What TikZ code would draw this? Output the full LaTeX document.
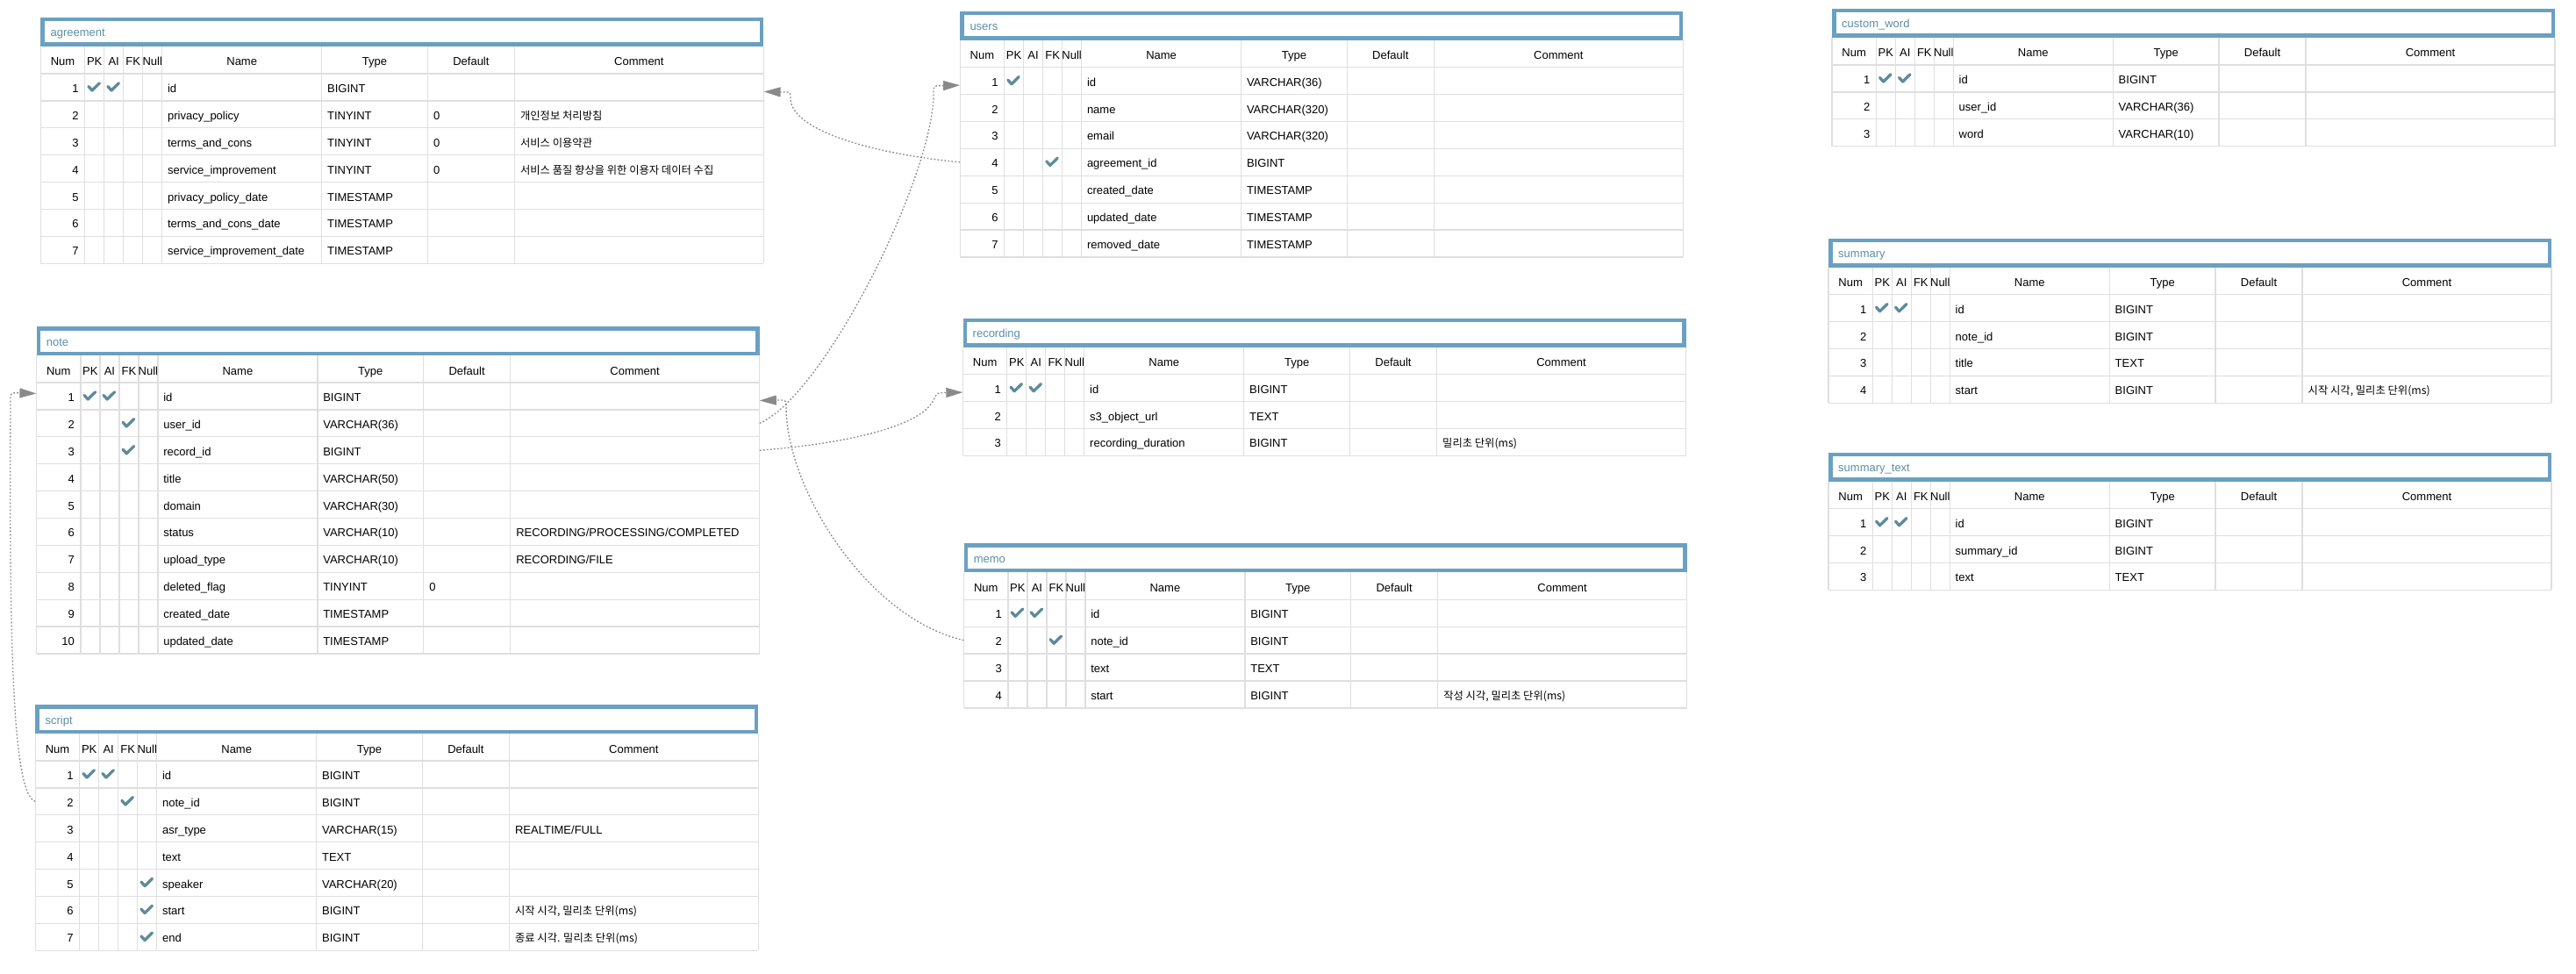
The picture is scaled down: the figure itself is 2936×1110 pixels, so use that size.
\documentclass[tikz,border=0pt]{standalone}
\usepackage{fontspec}
\setmainfont{Liberation Sans}
\newfontfamily\krfont{Noto Sans CJK KR}
\usetikzlibrary{arrows.meta,calc}
\definecolor{hdrblue}{HTML}{6AA0C2}
\definecolor{titleblue}{HTML}{5A8FA8}
\definecolor{gridgray}{HTML}{DFDFDF}
\definecolor{chkcol}{HTML}{5E8B9B}
\definecolor{conngray}{HTML}{8A8A8A}
\newcommand\tfont{\fontsize{13pt}{15pt}\selectfont}
\newcommand\kfont{\krfont\fontsize{12.3pt}{14pt}\selectfont}
\tikzset{
  cell/.style={inner sep=0pt, font=\tfont, text=black},
  hdrlabel/.style={cell, anchor=base},
  ttl/.style={inner sep=0pt, font=\tfont, text=titleblue, anchor=base west},
  gridline/.style={draw=gridgray, line width=1.3pt},
  chkmark/.style={draw=chkcol, line width=3.3pt, line cap=round, line join=round},
  rowbox/.style={inner sep=0pt, minimum width=824pt, minimum height=30.9pt, draw=none},
  conn/.style={draw=conngray, line width=1.3pt, dash pattern=on 1.8pt off 2.2pt, -{Triangle[length=19pt,width=11pt]}}
}
% table frame: #1 id, #2 title, #3 number of rows
\newcommand\ertable[3]{%
  \fill[hdrblue] (0,0) rectangle (824,33);
  \fill[white] (4.5,4.5) rectangle (819.5,28.5);
  \node[ttl] (#1-title) at (11,22) {#2};
  \foreach \i in {0,...,#3} {\draw[gridline] (0,{64+30.9*\i}) -- (824,{64+30.9*\i});}
  \foreach \xx in {0,50.3,72.3,94.3,116.3,138.3,320.3,441,540,824} {\draw[gridline] (\xx,33) -- (\xx,{64+30.9*#3});}
  \node[hdrlabel] (#1-hnum) at (25.15,55) {Num};
  \node[hdrlabel] (#1-hpk) at (61.3,55) {PK};
  \node[hdrlabel] (#1-hai) at (83.3,55) {AI};
  \node[hdrlabel] (#1-hfk) at (105.3,55) {FK};
  \node[hdrlabel] (#1-hnull) at (127.3,55) {Null};
  \node[hdrlabel] (#1-hname) at (229.3,55) {Name};
  \node[hdrlabel] (#1-htype) at (380.65,55) {Type};
  \node[hdrlabel] (#1-hdef) at (490.5,55) {Default};
  \node[hdrlabel] (#1-hcmt) at (682,55) {Comment};
}
% row: #1 id, #2 index, #3 name, #4 type, #5 default, #6 comment
\newcommand\erow[6]{%
  \pgfmathsetmacro\yc{64+30.9*(#2-0.5)}%
  \node[rowbox] (#1-r#2) at (412,\yc) {};
  \node[cell, anchor=base east] (#1-r#2-num) at (43.5,\yc+6) {#2};
  \node[cell, anchor=base west] (#1-r#2-name) at (144.5,\yc+6) {#3};
  \node[cell, anchor=base west] (#1-r#2-type) at (326.5,\yc+6) {#4};
  \if\relax\detokenize{#5}\relax\else\node[cell, anchor=base west] (#1-r#2-def) at (447.5,\yc+6) {#5};\fi
  \if\relax\detokenize{#6}\relax\else\node[cell, anchor=base west] (#1-r#2-cmt) at (546.5,\yc+6) {#6};\fi
}
% check mark: #1 row, #2 column (1 PK, 2 AI, 3 FK, 4 Null)
\newcommand\chk[2]{%
  \pgfmathsetmacro\cy{64+30.9*(#1-0.5)}%
  \pgfmathsetmacro\cx{50.3+22*(#2-1)+11}%
  \draw[chkmark] (\cx-6.8,\cy-1) -- (\cx-2.7,\cy+3.6) -- (\cx+5.7,\cy-4.7);
}
\begin{document}
\begin{tikzpicture}[x=1pt,y=-1pt]
\useasboundingbox (0,0) rectangle (2936,1110);
\fill[white] (0,0) rectangle (2936,1110);

% agreement
\begin{scope}[shift={(46.4,20)}]
\ertable{agreement}{agreement}{7}
\erow{agreement}{1}{id}{BIGINT}{}{}
\erow{agreement}{2}{privacy\_policy}{TINYINT}{0}{\kfont 개인정보 처리방침}
\erow{agreement}{3}{terms\_and\_cons}{TINYINT}{0}{\kfont 서비스 이용약관}
\erow{agreement}{4}{service\_improvement}{TINYINT}{0}{\kfont 서비스 품질 향상을 위한 이용자 데이터 수집}
\erow{agreement}{5}{privacy\_policy\_date}{TIMESTAMP}{}{}
\erow{agreement}{6}{terms\_and\_cons\_date}{TIMESTAMP}{}{}
\erow{agreement}{7}{service\_improvement\_date}{TIMESTAMP}{}{}
\chk{1}{1}\chk{1}{2}
\end{scope}

% users
\begin{scope}[shift={(1094.3,12.7)}]
\ertable{users}{users}{7}
\erow{users}{1}{id}{VARCHAR(36)}{}{}
\erow{users}{2}{name}{VARCHAR(320)}{}{}
\erow{users}{3}{email}{VARCHAR(320)}{}{}
\erow{users}{4}{agreement\_id}{BIGINT}{}{}
\erow{users}{5}{created\_date}{TIMESTAMP}{}{}
\erow{users}{6}{updated\_date}{TIMESTAMP}{}{}
\erow{users}{7}{removed\_date}{TIMESTAMP}{}{}
\chk{1}{1}\chk{4}{3}
\end{scope}

% custom_word
\begin{scope}[shift={(2088,10)}]
\ertable{customword}{custom\_word}{3}
\erow{customword}{1}{id}{BIGINT}{}{}
\erow{customword}{2}{user\_id}{VARCHAR(36)}{}{}
\erow{customword}{3}{word}{VARCHAR(10)}{}{}
\chk{1}{1}\chk{1}{2}
\end{scope}

% note
\begin{scope}[shift={(41.6,372)}]
\ertable{note}{note}{10}
\erow{note}{1}{id}{BIGINT}{}{}
\erow{note}{2}{user\_id}{VARCHAR(36)}{}{}
\erow{note}{3}{record\_id}{BIGINT}{}{}
\erow{note}{4}{title}{VARCHAR(50)}{}{}
\erow{note}{5}{domain}{VARCHAR(30)}{}{}
\erow{note}{6}{status}{VARCHAR(10)}{}{RECORDING/PROCESSING/COMPLETED}
\erow{note}{7}{upload\_type}{VARCHAR(10)}{}{RECORDING/FILE}
\erow{note}{8}{deleted\_flag}{TINYINT}{0}{}
\erow{note}{9}{created\_date}{TIMESTAMP}{}{}
\erow{note}{10}{updated\_date}{TIMESTAMP}{}{}
\chk{1}{1}\chk{1}{2}\chk{2}{3}\chk{3}{3}
\end{scope}

% recording
\begin{scope}[shift={(1097.5,362.7)}]
\ertable{recording}{recording}{3}
\erow{recording}{1}{id}{BIGINT}{}{}
\erow{recording}{2}{s3\_object\_url}{TEXT}{}{}
\erow{recording}{3}{recording\_duration}{BIGINT}{}{\kfont 밀리초 단위(ms)}
\chk{1}{1}\chk{1}{2}
\end{scope}

% memo
\begin{scope}[shift={(1098.6,619.3)}]
\ertable{memo}{memo}{4}
\erow{memo}{1}{id}{BIGINT}{}{}
\erow{memo}{2}{note\_id}{BIGINT}{}{}
\erow{memo}{3}{text}{TEXT}{}{}
\erow{memo}{4}{start}{BIGINT}{}{\kfont 작성 시각, 밀리초 단위(ms)}
\chk{1}{1}\chk{1}{2}\chk{2}{3}
\end{scope}

% summary
\begin{scope}[shift={(2084,271.7)}]
\ertable{summary}{summary}{4}
\erow{summary}{1}{id}{BIGINT}{}{}
\erow{summary}{2}{note\_id}{BIGINT}{}{}
\erow{summary}{3}{title}{TEXT}{}{}
\erow{summary}{4}{start}{BIGINT}{}{\kfont 시작 시각, 밀리초 단위(ms)}
\chk{1}{1}\chk{1}{2}
\end{scope}

% summary_text
\begin{scope}[shift={(2084,515.7)}]
\ertable{summarytext}{summary\_text}{3}
\erow{summarytext}{1}{id}{BIGINT}{}{}
\erow{summarytext}{2}{summary\_id}{BIGINT}{}{}
\erow{summarytext}{3}{text}{TEXT}{}{}
\chk{1}{1}\chk{1}{2}
\end{scope}

% script
\begin{scope}[shift={(40.4,803)}]
\ertable{script}{script}{7}
\erow{script}{1}{id}{BIGINT}{}{}
\erow{script}{2}{note\_id}{BIGINT}{}{}
\erow{script}{3}{asr\_type}{VARCHAR(15)}{}{REALTIME/FULL}
\erow{script}{4}{text}{TEXT}{}{}
\erow{script}{5}{speaker}{VARCHAR(20)}{}{}
\erow{script}{6}{start}{BIGINT}{}{\kfont 시작 시각, 밀리초 단위(ms)}
\erow{script}{7}{end}{BIGINT}{}{\kfont 종료 시각. 밀리초 단위(ms)}
\chk{1}{1}\chk{1}{2}\chk{2}{3}\chk{5}{4}\chk{6}{4}\chk{7}{4}
\end{scope}

% connectors
\draw[conn] (users-r4.west) .. controls (1000,176) and (903,150) .. (901,113) .. controls (901,105) .. (894,105) -- ($(agreement-r1.east)+(0,5)$);
\draw[conn] (note-r2.east) .. controls (940,450) and (1064,200) .. (1064,107) .. controls (1064,97.7) .. (1072,97.7) -- ($(users-r1.west)+(0,5)$);
\draw[conn] (note-r3.east) .. controls (970,505) and (1050,485) .. (1064,456) .. controls (1068,447.5) .. (1077,447.5) -- ($(recording-r1.west)+(0,5)$);
\draw[conn] (memo-r2.west) .. controls (990,705) and (897,560) .. (896,465) .. controls (896,456) .. (888,456) -- ($(note-r1.east)+(0,5)$);
\draw[conn] (script-r2.west) .. controls (12,905) and (11,700) .. (12,457) .. controls (12,447.8) .. (20,447.8) -- ($(note-r1.west)+(0,-3)$);
\end{tikzpicture}
\end{document}
